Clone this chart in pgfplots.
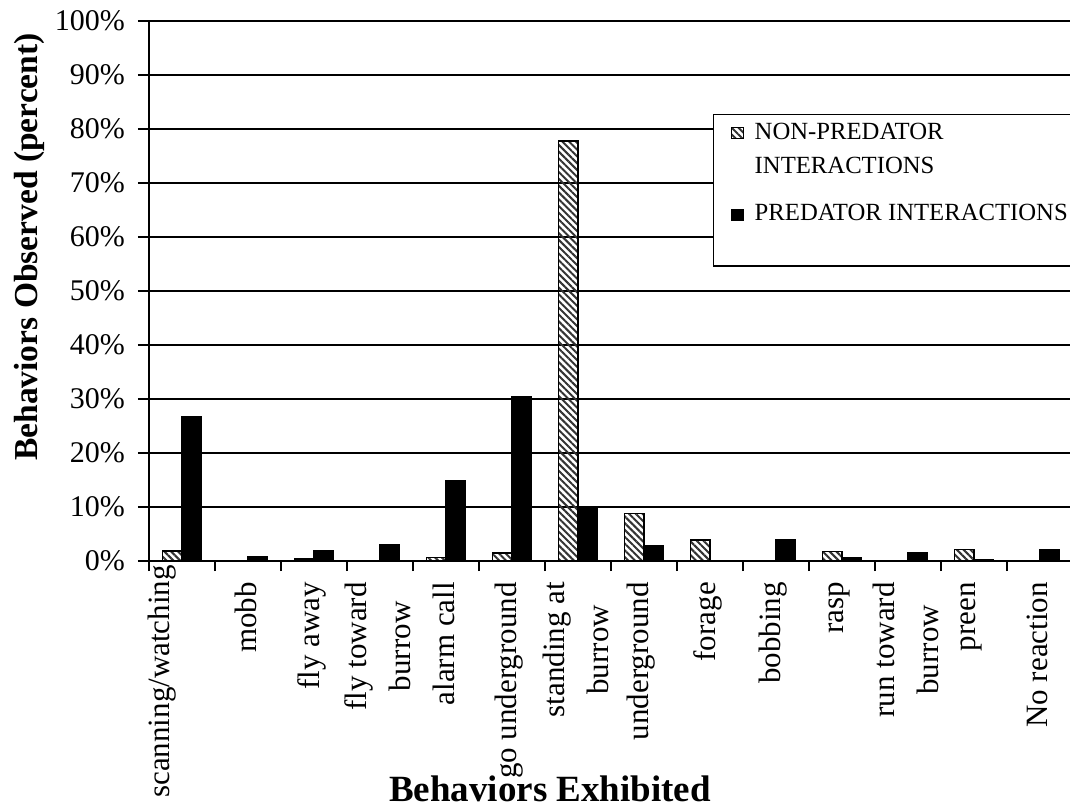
\documentclass[border=0pt]{standalone}
\usepackage{pgfplots}
\pgfplotsset{compat=1.18}
\usepackage{pgfplotstable}
\usepackage{fontspec}
\setmainfont{Liberation Serif}
\usetikzlibrary{patterns.meta}

% percentage of observations per behaviour (nan = not observed)
\pgfplotstableread{
idx nonpred pred
0   1.85   26.7
1   nan    0.8
2   0.4    1.9
3   nan    3.0
4   0.7    14.9
5   1.5    30.5
6   77.8   10.0
7   8.8    2.9
8   3.9    nan
9   nan    4.0
10  1.8    0.7
11  nan    1.5
12  2.1    0.3
13  nan    2.1
}\behaviours

\begin{document}
\begin{tikzpicture}[x=1pt,y=1pt]
\path[use as bounding box] (0,0) rectangle (1070,-808);
\clip (0,0) rectangle (1070,-808);
\begin{axis}[
  at={(149pt,-561pt)}, anchor=south west,
  scale only axis, width=924pt, height=540pt,
  xmin=-0.5, xmax=13.5, ymin=0, ymax=100,
  axis x line*=bottom, axis y line*=left,
  axis line style={black, line width=2pt},
  ybar=0pt, bar width=19.6pt,
  ymajorgrids, grid style={black, line width=1.4pt},
  ytick={0,10,...,100},
  yticklabel={\pgfmathprintnumber{\tick}\%},
  /pgf/number format/assume math mode=true,
  yticklabel style={font=\fontsize{30}{36}\selectfont, inner sep=0pt, xshift=-13pt},
  xtick={0,...,13},
  xticklabels={
    {\raisebox{17pt}[\height][\depth]{scanning/watching\kern-17pt}},
    mobb, fly away, fly toward\\burrow, alarm call, go underground,
    standing at\\burrow, underground, forage, bobbing, rasp,
    run toward\\burrow, preen, No reaction},
  xticklabel style={rotate=90, anchor=east, align=center, inner sep=0pt,
    font=\fontsize{31}{44}\selectfont, xshift=-10pt, yshift=2.5pt},
  minor xtick={-0.5,0.5,...,13.5},
  tick align=outside,
  major tick length=11pt, minor tick length=10pt,
  tick style={black, line width=1.4pt},
  major x tick style={draw=none},
  every axis x label/.style={at={(axis description cs:0.434,-0.446)}, anchor=base,
    font=\fontsize{37}{44}\selectfont\bfseries},
  every axis y label/.style={at={(axis description cs:-0.1212,0.5815)}, rotate=90,
    anchor=base, font=\fontsize{33.5}{40}\selectfont\bfseries},
  xlabel={Behaviors Exhibited},
  ylabel={Behaviors Observed (percent)},
  legend cell align=left,
  legend image code/.code={\draw[#1, line width=1pt] (0pt,0.5pt) rectangle (12pt,11.5pt);},
  legend style={at={(axis description cs:0.6104,0.8278)}, anchor=north west,
    draw=black, line width=1.4pt, fill=white,
    font=\fontsize{24.7}{34}\selectfont, align=left,
    inner xsep=17pt, inner ysep=8pt, row sep=30pt, column sep=11pt,
    cells={anchor=base west}, nodes={inner sep=0pt}},
]
% the first entry has two text lines: its key sits level with the upper one
\addplot[draw=black, line width=1.3pt,
  pattern={Lines[angle=-45, distance=4.8pt, line width=2pt]}, pattern color=black!80,
  legend image code/.code={\draw[##1, line width=1pt] (0pt,34.5pt) rectangle (12pt,45.5pt);}]
  table[x=idx, y=nonpred] {\behaviours};
\addplot[draw=black, line width=1.3pt, fill=black]
  table[x=idx, y=pred] {\behaviours};
\addlegendentry{NON-PREDATOR\\INTERACTIONS}
\addlegendentry{PREDATOR INTERACTIONS}
% blank row keeps the empty space at the foot of the legend box
\addlegendimage{empty legend}
\addlegendentry{\vrule width 0pt height 4pt depth 0pt}
\end{axis}
\end{tikzpicture}
\end{document}
